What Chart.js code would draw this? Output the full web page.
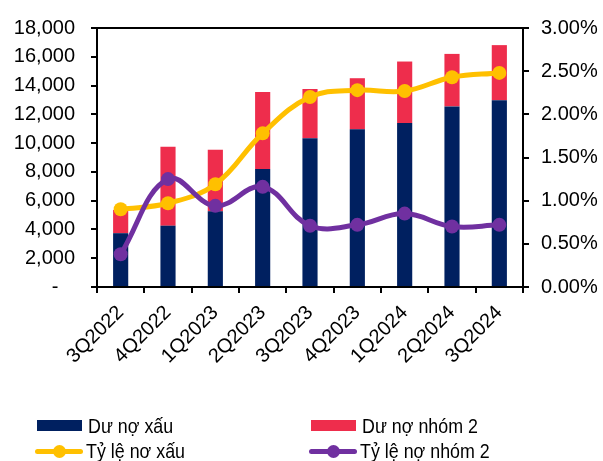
<!DOCTYPE html>
<html>
<head>
<meta charset="utf-8">
<title>Dư nợ xấu và nợ nhóm 2</title>
<script src="https://cdn.jsdelivr.net/npm/chart.js@4.4.1/dist/chart.umd.min.js"></script>
<style>
    html, body { margin: 0; padding: 0; background: #fff; }
    #wrap { position: relative; width: 603px; height: 461px; font-family: "Liberation Sans", Arial, sans-serif; }
    #chart { position: absolute; left: 0; top: 0; }
    .leyenda { position: absolute; font-size: 21px; color: #000; line-height: 22px; height: 22px; white-space: nowrap; }
    .leyenda .caja { position: absolute; top: 5px; width: 45px; height: 11px; }
    .leyenda .linea { position: absolute; top: 9px; width: 48px; height: 5px; border-radius: 3px; }
    .leyenda .punto { position: absolute; top: 5px; width: 13px; height: 13px; border-radius: 50%; }
    .leyenda .texto { position: absolute; left: 51px; top: 0; transform: scaleX(0.85); transform-origin: left center; }
</style>
</head>
<body>
<div id="wrap">
    <canvas id="chart" width="603" height="461"></canvas>
    <div id="legend"></div>
</div>
<script>
// Datos del gráfico
const quarters = ['3Q2022', '4Q2022', '1Q2023', '2Q2023', '3Q2023', '4Q2023', '1Q2024', '2Q2024', '3Q2024'];
const duNoXau = [3740, 4260, 5260, 8200, 10340, 10960, 11390, 12550, 12980];
const duNoNhom2 = [1610, 5490, 4280, 5350, 3420, 3550, 4280, 3650, 3830];
const tyLeNoXau = [0.90, 0.97, 1.19, 1.78, 2.20, 2.28, 2.27, 2.43, 2.48];
const tyLeNoNhom2 = [0.38, 1.25, 0.94, 1.16, 0.71, 0.72, 0.85, 0.70, 0.72];
const leftTicks = [0, 2000, 4000, 6000, 8000, 10000, 12000, 14000, 16000, 18000];
const rightTicks = [0, 0.5, 1.0, 1.5, 2.0, 2.5, 3.0];

const colores = {
    navy: '#002060',
    rojo: '#EE2D4C',
    amarillo: '#FFC000',
    morado: '#7030A0'
};

const fuente = { family: '"Liberation Sans", Arial, sans-serif', size: 20 };

(function() {
    // marco superior del área del gráfico
    const marcoSuperior = {
        id: 'marcoSuperior',
        afterDatasetsDraw(chart) {
            const a = chart.chartArea;
            const ctx = chart.ctx;
            ctx.save();
            ctx.strokeStyle = '#000';
            ctx.lineWidth = 2;
            ctx.beginPath();
            ctx.moveTo(a.left - 6, a.top);
            ctx.lineTo(a.right + 6, a.top);
            ctx.stroke();
            ctx.restore();
        }
    };

    function serieLinea(label, data, color, order) {
        return {
            type: 'line',
            label: label,
            data: data,
            yAxisID: 'y1',
            borderColor: color,
            backgroundColor: color,
            borderWidth: 5,
            pointRadius: 7,
            pointBorderWidth: 0,
            pointBackgroundColor: color,
            tension: 0.4,
            order: order
        };
    }

    function serieBarra(label, data, color) {
        return {
            type: 'bar',
            label: label,
            data: data,
            yAxisID: 'y',
            stack: 'deuda',
            backgroundColor: color,
            barPercentage: 0.32,
            categoryPercentage: 1,
            order: 2
        };
    }

    const ctx = document.getElementById('chart');
    new Chart(ctx, {
        data: {
            labels: quarters,
            datasets: [
                serieBarra('Dư nợ xấu', duNoXau, colores.navy),
                serieBarra('Dư nợ nhóm 2', duNoNhom2, colores.rojo),
                serieLinea('Tỷ lệ nợ xấu', tyLeNoXau, colores.amarillo, 1),
                serieLinea('Tỷ lệ nợ nhóm 2', tyLeNoNhom2, colores.morado, 0)
            ]
        },
        options: {
            responsive: false,
            animation: false,
            devicePixelRatio: 1,
            layout: { padding: { left: 0, right: 0, top: 23, bottom: 74 } },
            plugins: {
                legend: { display: false },
                tooltip: { enabled: false }
            },
            scales: {
                x: {
                    stacked: true,
                    grid: { display: true, offset: true, drawOnChartArea: false, drawTicks: true, tickLength: 6, color: '#000', lineWidth: 2 },
                    border: { display: true, color: '#000', width: 2 },
                    ticks: { color: '#000', font: fuente, minRotation: 45, maxRotation: 45, padding: 8 },
                    afterFit(s) { s.height = 100; }
                },
                y: {
                    stacked: true,
                    position: 'left',
                    min: 0,
                    max: 18000,
                    afterBuildTicks(s) { s.ticks = leftTicks.map(v => ({ value: v })); },
                    grid: { display: true, drawOnChartArea: false, drawTicks: true, tickLength: 6, color: '#000', lineWidth: 2 },
                    border: { display: true, color: '#000', width: 2 },
                    ticks: {
                        color: '#000',
                        font: fuente,
                        padding: 16,
                        callback: v => v === 0 ? '-   ' : v.toLocaleString('en-US')
                    },
                    afterFit(s) { s.width = 97; }
                },
                y1: {
                    position: 'right',
                    min: 0,
                    max: 3,
                    afterBuildTicks(s) { s.ticks = rightTicks.map(v => ({ value: v })); },
                    grid: { display: true, drawOnChartArea: false, drawTicks: true, tickLength: 6, color: '#000', lineWidth: 2 },
                    border: { display: true, color: '#000', width: 2 },
                    ticks: {
                        color: '#000',
                        font: fuente,
                        padding: 12,
                        callback: v => v.toFixed(2) + '%'
                    },
                    afterFit(s) { s.width = 80; }
                }
            }
        },
        plugins: [marcoSuperior]
    });

    // Leyenda en HTML, dos columnas
    const items = [
        { texto: 'Dư nợ xấu', tipo: 'caja', color: colores.navy, x: 37, y: 415 },
        { texto: 'Dư nợ nhóm 2', tipo: 'caja', color: colores.rojo, x: 311, y: 415 },
        { texto: 'Tỷ lệ nơ xấu', tipo: 'linea', color: colores.amarillo, x: 35, y: 440 },
        { texto: 'Tỷ lệ nợ nhóm 2', tipo: 'linea', color: colores.morado, x: 309, y: 440 }
    ];
    const cont = document.getElementById('legend');
    cont.innerHTML = items.map(it => {
        const marca = it.tipo === 'caja'
            ? `<span class="caja" style="left:0;background:${it.color}"></span>`
            : `<span class="linea" style="left:0;background:${it.color}"></span><span class="punto" style="left:18px;background:${it.color}"></span>`;
        return `<div class="leyenda" style="left:${it.x}px;top:${it.y}px">${marca}<span class="texto">${it.texto}</span></div>`;
    }).join('');
})();
</script>
</body>
</html>
